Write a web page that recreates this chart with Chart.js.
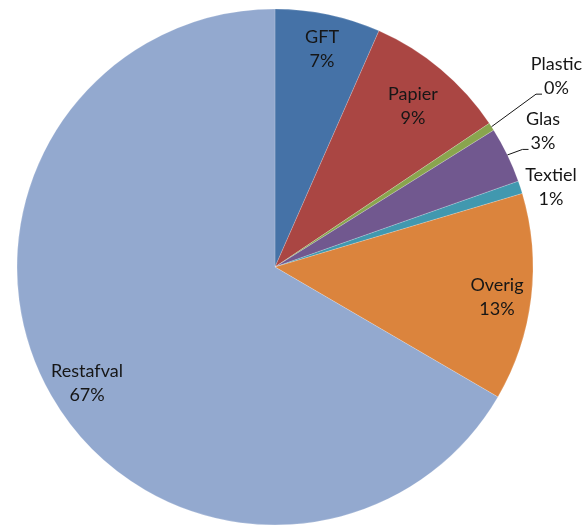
<!DOCTYPE html>
<html>
<head>
<meta charset="utf-8">
<script src="https://cdn.jsdelivr.net/npm/chart.js@4/dist/chart.umd.min.js"></script>
<style>
  html, body { margin: 0; padding: 0; background: #fff; }
  #wrap { width: 584px; height: 528px; }
</style>
</head>
<body>
<div id="wrap"><canvas id="myChart" width="584" height="528"></canvas></div>
<script>
// waste fractions (share of total)
var categories = ["GFT", "Papier", "Plastic", "Glas", "Textiel", "Overig", "Restafval"];
var values = [6.6, 9.0, 0.5, 3.5, 0.8, 13.0, 66.6];
var percentLabels = ["7%", "9%", "0%", "3%", "1%", "13%", "67%"];
var colors = ["#4572A7", "#AA4643", "#89A54E", "#71588F", "#4198AF", "#DB843D", "#93A9CF"];

// label placement: radius as fraction of pie radius, angle shift in degrees
var labelPlace = [
  { r: 0.864, da: 0.3 },
  { r: 0.822, da: 0.6 },
  { r: 1.318, da: -1.2, leader: true },
  { r: 1.164, da: -1.1, leader: true },
  { r: 1.114, da: 1.8 },
  { r: 0.868, da: 0.8 },
  { r: 0.857, da: -1.9 }
];

var pieLabels = {
  id: "pieLabels",
  afterDatasetsDraw: function (chart) {
    var ctx = chart.ctx;
    var arcs = chart.getDatasetMeta(0).data;
    ctx.save();
    ctx.font = "18px Lato";
    ctx.fillStyle = "#161616";
    ctx.textAlign = "center";
    ctx.textBaseline = "middle";
    arcs.forEach(function (arc, i) {
      var p = labelPlace[i];
      var mid = (arc.startAngle + arc.endAngle) / 2;
      var a = mid + p.da * Math.PI / 180;
      var r = arc.outerRadius * p.r;
      var x = arc.x + Math.cos(a) * r;
      var y = arc.y + Math.sin(a) * r;
      var lh = 24;
      ctx.fillText(categories[i], x, y - lh / 2);
      ctx.fillText(percentLabels[i], x, y + lh / 2);
      if (p.leader) {
        var left = x - ctx.measureText(percentLabels[i]).width / 2;
        var ly = y + lh / 2 + 6;
        ctx.beginPath();
        ctx.strokeStyle = "#161616";
        ctx.lineWidth = 1;
        ctx.moveTo(arc.x + Math.cos(mid) * arc.outerRadius, arc.y + Math.sin(mid) * arc.outerRadius);
        ctx.lineTo(left - 8, ly);
        ctx.lineTo(left - 2, ly);
        ctx.stroke();
      }
    });
    ctx.restore();
  }
};

const ctx = document.getElementById("myChart");
window.chart = new Chart(ctx, {
  type: "pie",
  data: {
    labels: categories,
    datasets: [
      {
        data: values,
        backgroundColor: colors,
        borderColor: "rgba(255,255,255,0.3)",
        borderWidth: 0.6,
        hoverOffset: 0
      }
    ]
  },
  options: {
    responsive: false,
    animation: false,
    radius: 258,
    layout: { padding: { left: 17, right: 51, top: 9, bottom: 3 } },
    plugins: {
      legend: { display: false },
      tooltip: { enabled: false }
    }
  },
  plugins: [pieLabels]
});
</script>
</body>
</html>
